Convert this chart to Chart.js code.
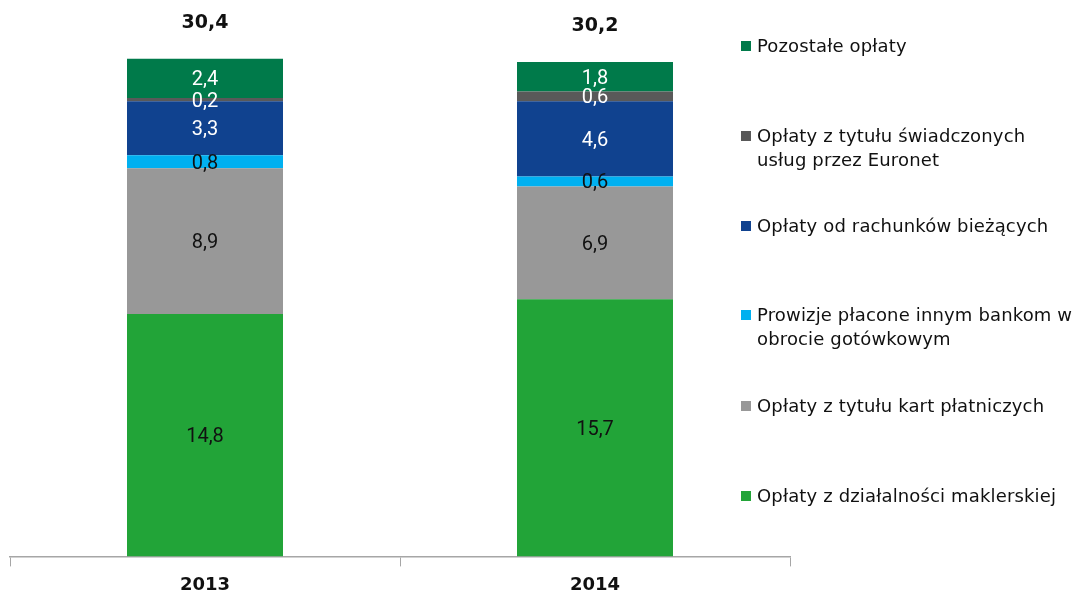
<!DOCTYPE html>
<html>
<head>
<meta charset="utf-8">
<script src="https://cdn.jsdelivr.net/npm/chart.js@4"></script>
<style>
  body { margin: 0; background: #fff; width: 1086px; height: 595px; overflow: hidden; position: relative; }
  #wrap { position: absolute; left: 0; top: 0; width: 800px; height: 595px; overflow: hidden; }
  #legend { position: absolute; left: 741px; top: 0; width: 345px; font-family: "DejaVu Sans", Verdana, sans-serif; font-size: 18px; letter-spacing: 0.15px; color: #111; }
  .item { position: absolute; left: 0; line-height: 24px; padding-left: 16px; white-space: nowrap; }
  .box { position: absolute; left: 0; top: 7px; width: 10px; height: 10px; }
</style>
</head>
<body>
<div id="wrap"><canvas id="myChart" width="800" height="604"></canvas></div>
<div id="legend"></div>
<script>
// data (bn PLN) - bottom of stack first
const years = ['2013', '2014'];
const maklerskie = [14.8, 15.7];
const karty = [8.9, 6.9];
const prowizje = [0.8, 0.6];
const rachunki = [3.3, 4.6];
const euronet = [0.2, 0.6];
const pozostale = [2.4, 1.8];

const seriesNames = [
    'Opłaty z działalności maklerskiej',
    'Opłaty z tytułu kart płatniczych',
    'Prowizje płacone innym bankom w\nobrocie gotówkowym',
    'Opłaty od rachunków bieżących',
    'Opłaty z tytułu świadczonych\nusług przez Euronet',
    'Pozostałe opłaty'
];
const seriesColors = ['#22a438', '#989898', '#00b0f0', '#10428f', '#595959', '#007a4a'];
const labelColors = ['#111', '#111', '#111', '#fff', '#fff', '#fff'];
const seriesData = [maklerskie, karty, prowizje, rachunki, euronet, pozostale];

const fmt = v => v.toFixed(1).replace('.', ',');

// labels inside segments + totals on top
const labelPlugin = {
    id: 'segLabels',
    afterDatasetsDraw(chart) {
        const ctx = chart.ctx;
        ctx.save();
        ctx.textAlign = 'center';
        ctx.textBaseline = 'middle';
        chart.data.datasets.forEach((ds, i) => {
            const meta = chart.getDatasetMeta(i);
            meta.data.forEach((bar, j) => {
                ctx.fillStyle = labelColors[i];
                ctx.font = '20px Roboto, sans-serif';
                ctx.fillText(fmt(ds.data[j]), bar.x, (bar.y + bar.base) / 2 + 2);
            });
        });
        const last = chart.getDatasetMeta(chart.data.datasets.length - 1);
        last.data.forEach((bar, j) => {
            const total = seriesData.reduce((s, arr) => s + arr[j], 0);
            ctx.fillStyle = '#111';
            ctx.font = 'bold 19px "DejaVu Sans", sans-serif';
            ctx.fillText(fmt(total), bar.x, bar.y - 36);
        });
        ctx.restore();
    }
};

const ctx = document.getElementById('myChart').getContext('2d');
const myChart = new Chart(ctx, {
    type: 'bar',
    data: {
        labels: years,
        datasets: seriesNames.map((name, i) => ({
            label: name,
            data: seriesData[i],
            backgroundColor: seriesColors[i],
            borderWidth: 0,
            barPercentage: 0.4,
            categoryPercentage: 1
        }))
    },
    options: {
        responsive: false,
        animation: false,
        layout: { padding: { left: 10, right: 10, top: 3, bottom: 0 } },
        plugins: { legend: { display: false }, tooltip: { enabled: false } },
        scales: {
            x: {
                stacked: true,
                grid: { drawOnChartArea: false, tickLength: 10, color: '#a6a6a6', offset: true },
                border: { color: '#a6a6a6', width: 1.5 },
                ticks: { color: '#111', font: { family: '"DejaVu Sans", sans-serif', weight: 'bold', size: 18 }, padding: 8 }
            },
            y: { stacked: true, display: false, min: 0, max: 33.8 }
        }
    },
    plugins: [labelPlugin]
});

// legend, top entry = last series
const legendTops = [484, 394, 303, 214, 124, 34];
const legend = document.getElementById('legend');
seriesNames.forEach((name, i) => {
    const item = document.createElement('div');
    item.className = 'item';
    item.style.top = legendTops[i] + 'px';
    const box = document.createElement('span');
    box.className = 'box';
    box.style.background = seriesColors[i];
    item.appendChild(box);
    name.split('\n').forEach((line, k) => {
        if (k > 0) item.appendChild(document.createElement('br'));
        item.appendChild(document.createTextNode(line));
    });
    legend.appendChild(item);
});
</script>
</body>
</html>
